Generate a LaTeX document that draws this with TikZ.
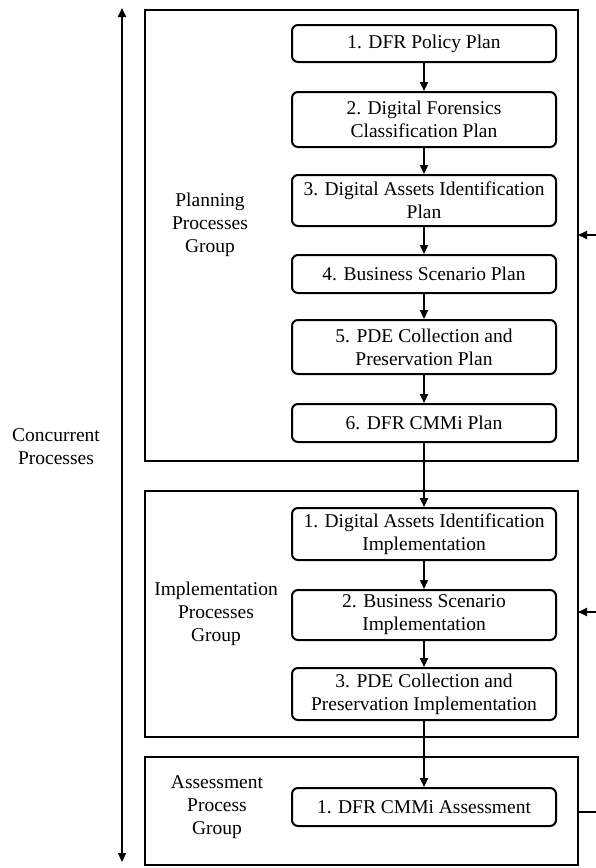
\documentclass[tikz,border=0pt]{standalone}
\usepackage{fontspec}
\setmainfont{Liberation Serif}
\usetikzlibrary{arrows.meta}
\begin{document}
\begin{tikzpicture}[x=1pt,y=-1pt,
  font=\fontsize{19.5}{23}\selectfont,
  group/.style={draw, line width=2pt},
  stepbox/.style={draw, line width=2pt, rounded corners=6pt, align=center,
    minimum width=264pt, inner sep=0pt},
  grouplabel/.style={align=center, inner sep=0pt},
  flow/.style={line width=2pt, -{Triangle[length=9pt,width=8pt]}},
  feed/.style={line width=2pt}
]
\useasboundingbox (0,0) rectangle (596,868);

% process group frames
\draw[group] (145,10) rectangle (578,461);
\draw[group] (145,491) rectangle (578,737);
\draw[group] (145,757) rectangle (578,865);
\coordinate (g1e) at (578,235);
\coordinate (g2e) at (578,612);
\coordinate (g3e) at (578,812);
\coordinate (r1) at (597,235);
\coordinate (r2) at (597,612);
\coordinate (r3) at (597,812);

% planning steps
\node[stepbox, minimum height=37pt] (p1) at (424,43.5) {1. DFR Policy Plan};
\node[stepbox, minimum height=55pt] (p2) at (424,119.5) {2. Digital Forensics\\Classification Plan};
\node[stepbox, minimum height=51pt] (p3) at (424,200.5) {3. Digital Assets Identification\\Plan};
\node[stepbox, minimum height=38pt] (p4) at (424,274) {4. Business Scenario Plan};
\node[stepbox, minimum height=54pt] (p5) at (424,347) {5. PDE Collection and\\Preservation Plan};
\node[stepbox, minimum height=38pt] (p6) at (424,423) {6. DFR CMMi Plan};

% implementation steps
\node[stepbox, minimum height=52pt] (i1) at (424,534) {1. Digital Assets Identification\\Implementation};
\node[stepbox, minimum height=50pt] (i2) at (424,615) {2. Business Scenario\\Implementation};
\node[stepbox, minimum height=52pt] (i3) at (424,694) {3. PDE Collection and\\Preservation Implementation};

% assessment step
\node[stepbox, minimum height=38pt] (a1) at (424,807) {1. DFR CMMi Assessment};

% group labels
\node[grouplabel] (lp) at (210,225) {Planning\\Processes\\Group};
\node[grouplabel] (li) at (216,614) {Implementation\\Processes\\Group};
\node[grouplabel] (la) at (217,807) {Assessment\\Process\\Group};
\node[grouplabel] (lc) at (56,447) {Concurrent\\Processes};

% sequence arrows
\foreach \a/\b in {p1/p2,p2/p3,p3/p4,p4/p5,p5/p6,p6/i1,i1/i2,i2/i3,i3/a1}
  \draw[flow] (\a) -- (\b);

% concurrency span
\coordinate (ct) at (122,8);
\coordinate (cb) at (122,862);
\draw[line width=2pt, {Triangle[length=9pt,width=8pt]}-{Triangle[length=9pt,width=8pt]}] (ct) -- (cb);

% feedback links on the right
\draw[flow] (r1) -- (g1e);
\draw[flow] (r2) -- (g2e);
\draw[feed] (g3e) -- (r3);
\end{tikzpicture}
\end{document}
